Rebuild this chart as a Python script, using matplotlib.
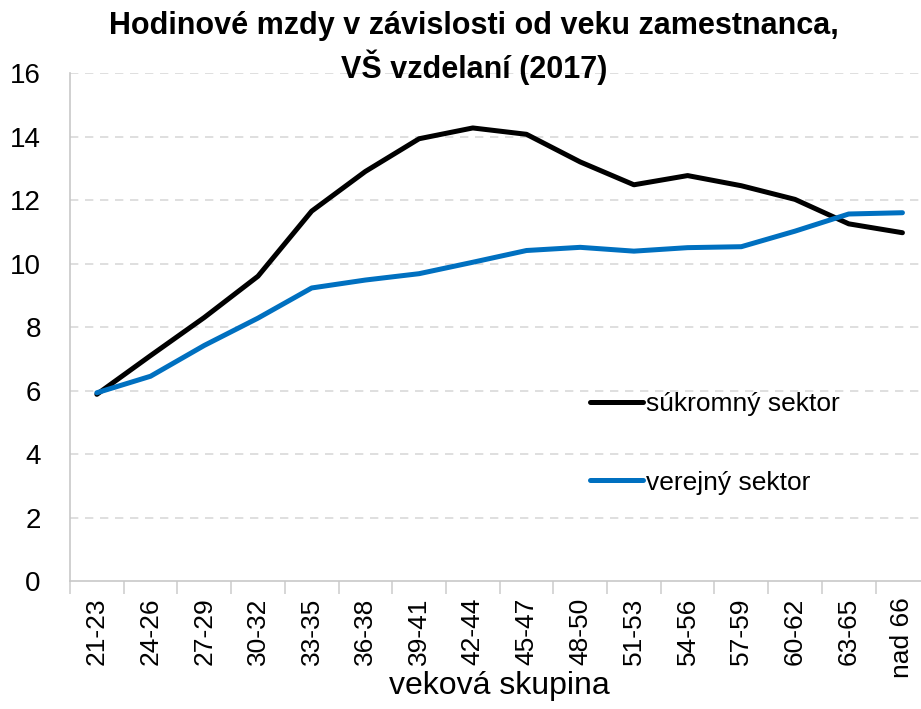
import matplotlib
matplotlib.use("Agg")
import matplotlib.pyplot as plt
import numpy as np

# vekove skupiny a hodinove mzdy (EUR), VS vzdelanie, 2017
skupiny = ["21-23", "24-26", "27-29", "30-32", "33-35", "36-38", "39-41", "42-44",
           "45-47", "48-50", "51-53", "54-56", "57-59", "60-62", "63-65", "nad 66"]
sukromny = [5.88, 7.1, 8.3, 9.6, 11.65, 12.9, 13.93, 14.27,
            14.07, 13.2, 12.48, 12.77, 12.45, 12.02, 11.25, 10.97]
verejny = [5.93, 6.45, 7.42, 8.28, 9.23, 9.48, 9.68, 10.04,
           10.41, 10.51, 10.39, 10.5, 10.53, 11.02, 11.56, 11.6]

plt.rcParams['font.family'] = ['Liberation Sans', 'DejaVu Sans']

fig = plt.figure(figsize=(9.21, 7.09), dpi=100)
ax = fig.add_axes([0.076, 0.1805, 0.933, 0.7165])

x = np.arange(len(skupiny))
ax.plot(x, sukromny, color='black', lw=3.6, label='súkromný sektor', solid_capstyle='round')
ax.plot(x, verejny, color='#0070C0', lw=3.6, label='verejný sektor', solid_capstyle='round')

ax.set_xlim(-0.5, len(skupiny) - 0.5)
ax.set_ylim(0, 16)
ax.set_yticks(range(0, 17, 2))
ax.tick_params(axis='y', length=0, labelsize=20, pad=21)
ax.set_xticks(x)
ax.set_xticklabels(skupiny, rotation=90, fontsize=19)
ax.tick_params(axis='x', which='major', length=0, pad=12)
ax.set_xticks(np.arange(-0.5, len(skupiny), 1), minor=True)
ax.tick_params(axis='x', which='minor', length=9, color='#D0D0D0', width=1.2)

for v in range(2, 17, 2):
    ax.axhline(v, color='#D9D9D9', lw=1.2, ls=(0, (5, 4)), zorder=0)

for s in ['top', 'right']:
    ax.spines[s].set_visible(False)
ax.spines['left'].set_color('#C8C8C8')
ax.spines['bottom'].set_color('#C8C8C8')
ax.spines['left'].set_linewidth(1.2)
ax.spines['bottom'].set_linewidth(1.2)

ax.set_xlabel('veková skupina', fontsize=23, labelpad=-5)
fig.suptitle('Hodinové mzdy v závislosti od veku zamestnanca,\nVŠ vzdelaní (2017)',
             fontsize=22, fontweight='bold', y=0.985, x=0.515, linespacing=1.3)

ax.legend(loc='upper left', bbox_to_anchor=(0.615, 0.48), bbox_transform=fig.transFigure,
          frameon=False, fontsize=19, handlelength=2.0, handletextpad=0.1,
          labelspacing=2.05)

fig.savefig('out.png', dpi=100)
